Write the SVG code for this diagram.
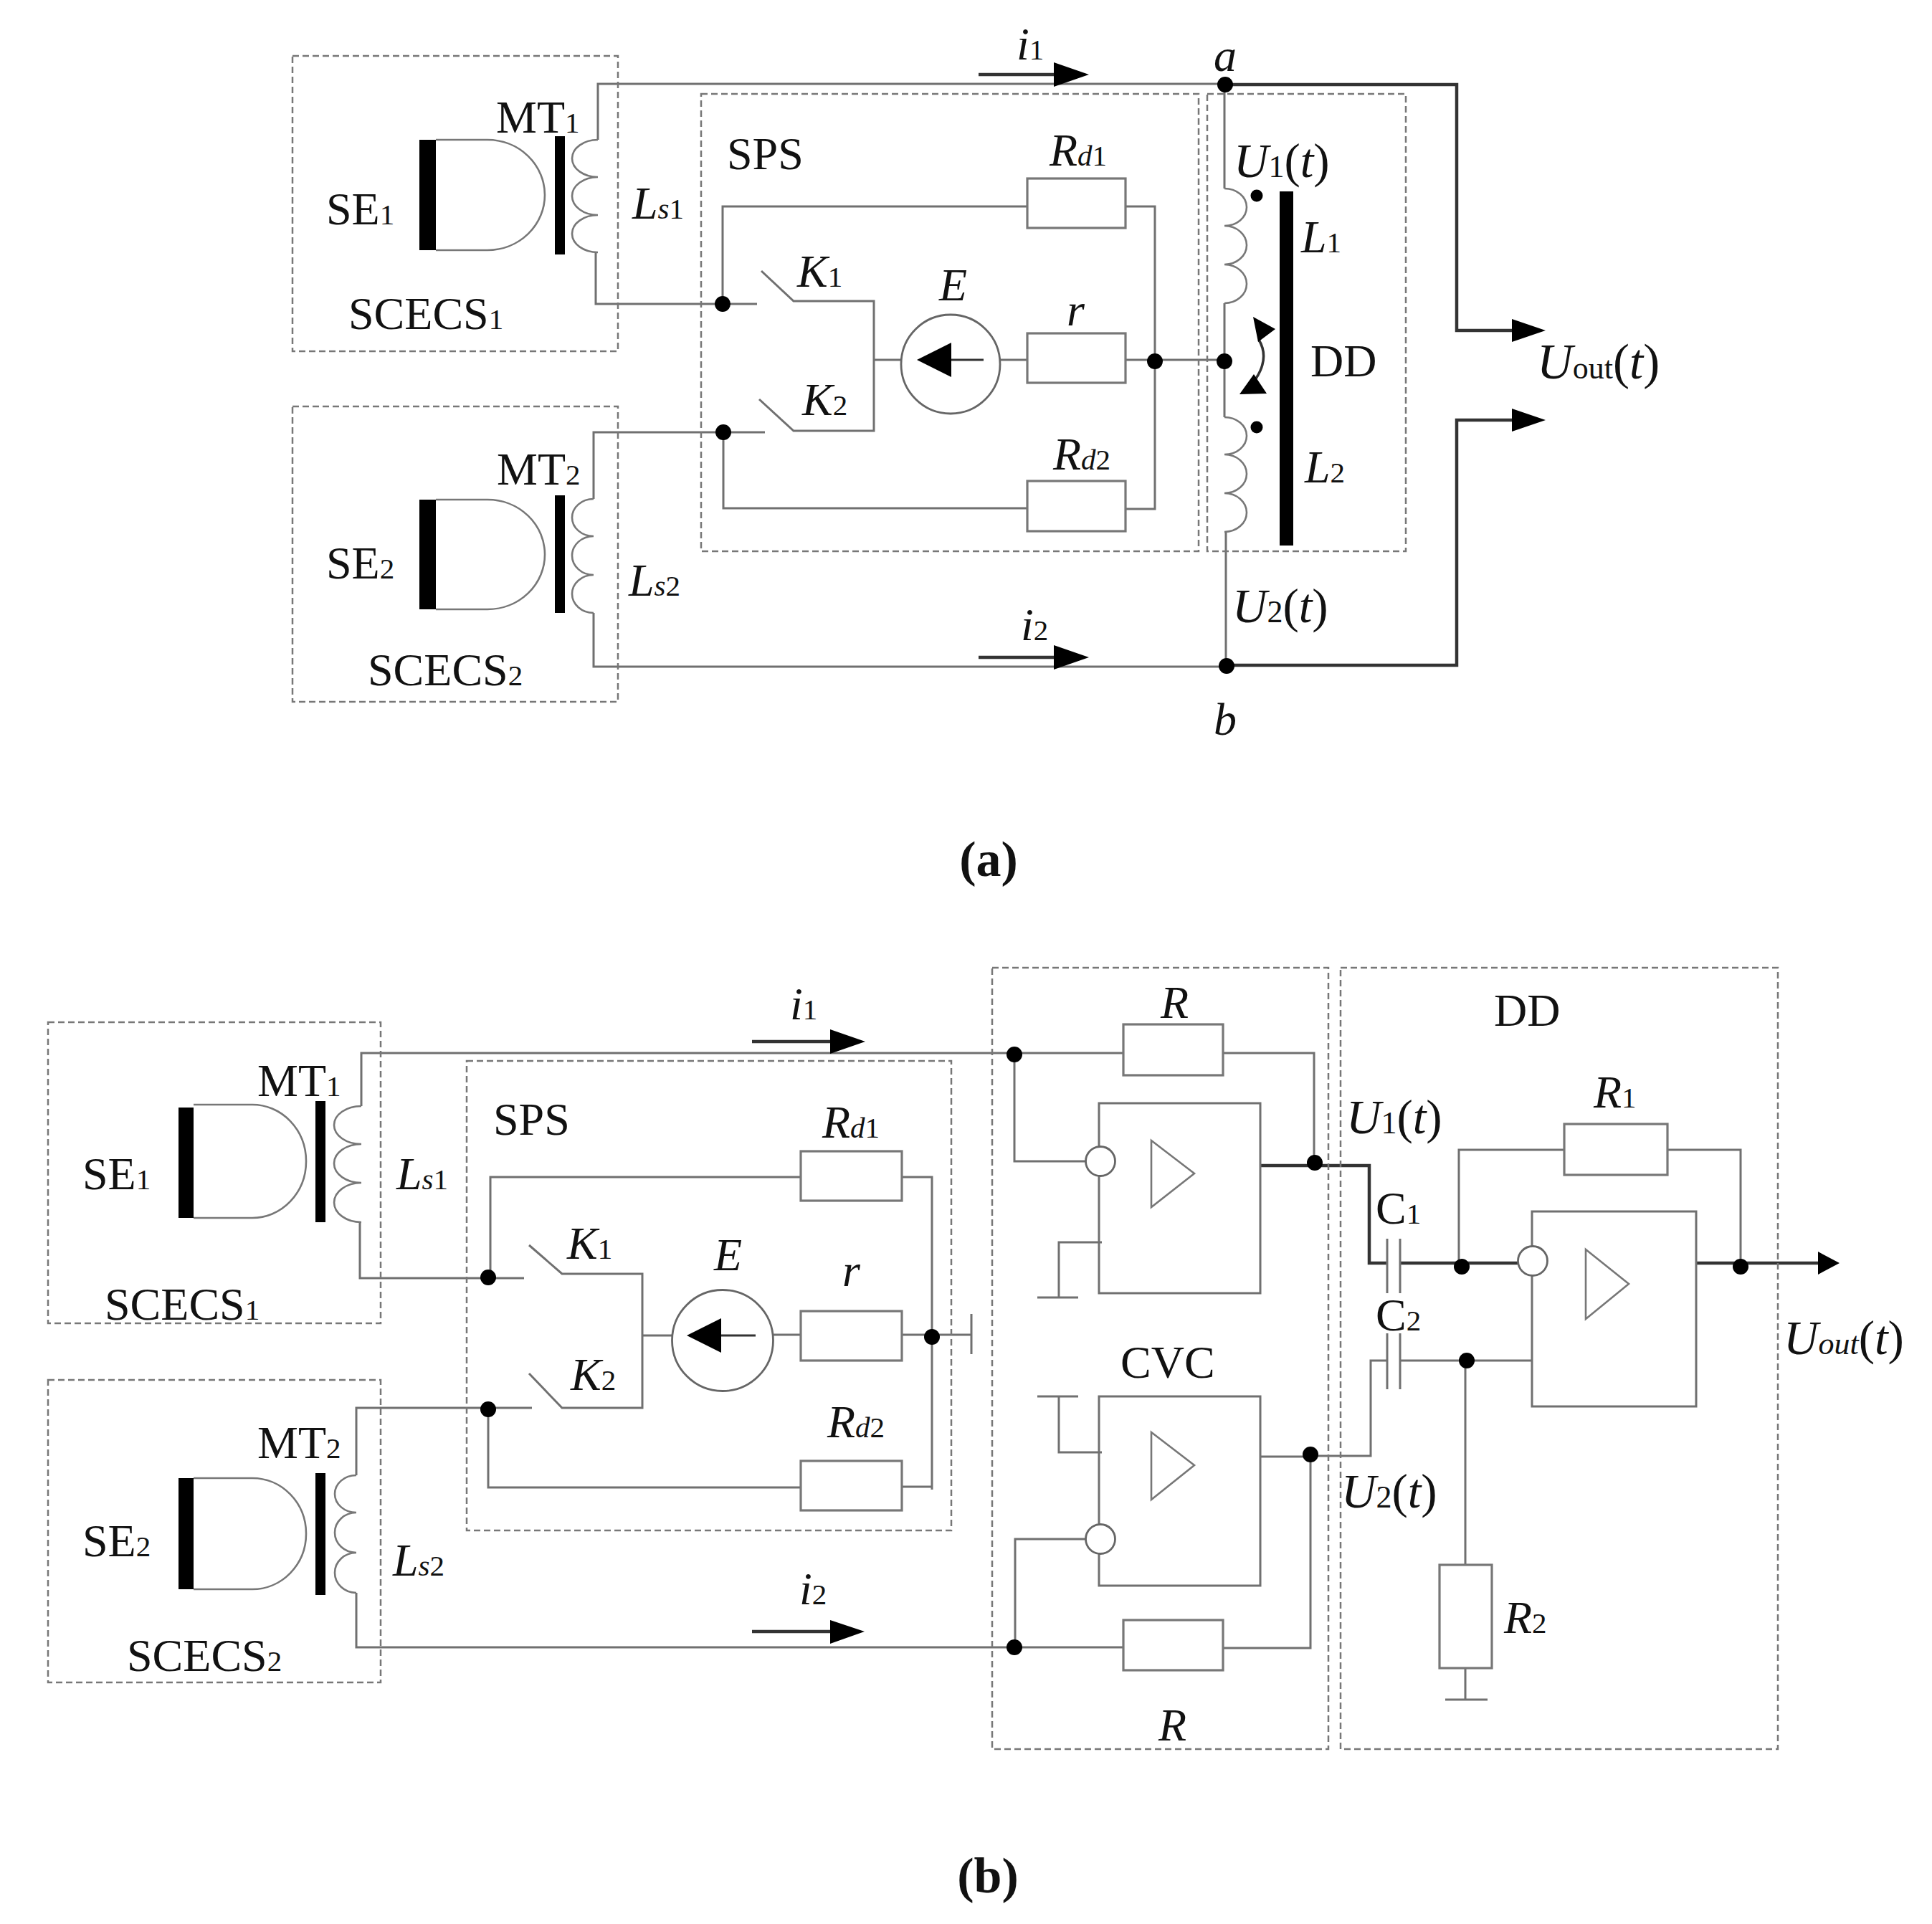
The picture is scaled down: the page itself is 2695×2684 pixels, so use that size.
<svg xmlns="http://www.w3.org/2000/svg" width="2695" height="2684" viewBox="0 0 2695 2684">
<style>
text{font-family:"Liberation Serif","Times New Roman",serif;font-size:64px;fill:#111}
.i{font-style:italic}
.s{font-size:41px}
.u{font-size:67px}
.u .s{font-size:44px}
.b{font-weight:bold;font-size:70px}
.box{fill:none;stroke:#777;stroke-width:2.5;stroke-dasharray:9 5}
.w{fill:none;stroke:#707070;stroke-width:3}
.k{fill:none;stroke:#333;stroke-width:4.5}
.c{fill:none;stroke:#777;stroke-width:2.6}
.r{fill:#fff;stroke:#777;stroke-width:3.2}
.o{fill:#fff;stroke:#666;stroke-width:2.8}
.f{fill:#000}
</style>
<rect width="2695" height="2684" fill="#fff"/>
<g id="connectors">
<!-- panel a -->
<path class="w" d="M834 195V117H1709"/>
<path class="w" d="M831 352V424H1056"/>
<path class="w" d="M828 696V603H1067"/>
<path class="w" d="M828 855V930H1711"/>
<path class="w" d="M1008 424V288H1433M1570 288H1611V710H1570M1009 603V709H1433"/>
<path class="w" d="M1062 378L1107 420H1219V601H1107L1059 557"/>
<path class="w" d="M1219 502H1258M1394 502H1433M1570 502H1708"/>
<path class="w" d="M1708 118V263M1708 423V582M1710 742V928"/>
<path class="k" d="M1709 118H2032V461H2109M2109 586H2032V928H1711"/>
<path class="k" d="M1365 104H1470M1365 917H1470"/>
<path class="f" d="M1470 87L1519 104L1470 121ZM1470 900L1519 917L1470 934ZM2109 445L2156 461L2109 477ZM2109 570L2156 586L2109 602Z"/>
<path class="k" d="M1756 474Q1771 499 1752 528" style="stroke-width:3.500"/>
<path class="f" d="M1748 442L1779 459L1755 477ZM1749 522L1767 549L1729 550Z"/>
<!-- panel b -->
<path class="w" d="M504 1543V1469H1567M1705 1469H1833V1622"/>
<path class="w" d="M502 1705V1783H731"/>
<path class="w" d="M497 2058V1964H742"/>
<path class="w" d="M497 2222V2298H1567M1705 2299H1828V2032H1758"/>
<path class="w" d="M684 1782V1642H1117M1258 1642H1300V2078M1258 2074H1300M681 1966V2075H1117"/>
<path class="w" d="M738 1737L784 1777H896V1964H784L738 1916"/>
<path class="w" d="M896 1863H937M1079 1862H1117M1258 1862H1355M1355 1833V1889"/>
<path class="w" d="M1415 1471V1620H1515M1416 2298V2147H1515"/>
<path class="w" d="M1537 1733H1477V1810M1447 1810H1504M1447 1948H1504M1477 1948V2026H1537"/>
<path class="k" d="M1758 1626H1910V1762H1935M1953 1762H2117"/>
<path class="w" d="M1828 2031H1912V1898H1935M1953 1898H2137"/>
<path class="w" d="M2035 1767V1604H2182M2326 1604H2428V1767"/>
<path class="w" d="M2044 1898V2183M2044 2327V2371M2016 2371H2075"/>
<path class="k" d="M2366 1762H2536M1049 1453H1158M1049 2276H1158"/>
<path class="f" d="M1158 1436L1207 1453L1158 1470ZM1158 2260L1206 2276L1158 2293ZM2536 1746L2566 1762L2536 1778Z"/>
<g class="f">
<circle cx="1709" cy="118" r="11"/><circle cx="1711" cy="929" r="11"/><circle cx="1708" cy="504" r="11"/><circle cx="1611" cy="504" r="11"/><circle cx="1008" cy="424" r="11"/><circle cx="1009" cy="603" r="11"/>
<circle cx="681" cy="1782" r="11"/><circle cx="681" cy="1966" r="11"/><circle cx="1300" cy="1865" r="11"/><circle cx="1415" cy="1471" r="11"/><circle cx="1415" cy="2298" r="11"/><circle cx="1834" cy="1622" r="11"/><circle cx="1828" cy="2029" r="11"/><circle cx="2039" cy="1767" r="11"/><circle cx="2046" cy="1898" r="11"/><circle cx="2428" cy="1767" r="11"/>
</g>
</g>
<g id="a-scecs1">
<rect class="box" x="408" y="78" width="454" height="412"/>
<rect class="f" x="585" y="195" width="23" height="154"/>
<path class="c" d="M608 195H680A80 77 0 0 1 680 349H608"/>
<rect class="f" x="774" y="190" width="14" height="165"/>
<path class="c" d="M834 195A36 26 0 0 0 834 247A36 26.500 0 0 0 834 300A36 26 0 0 0 834 352"/>
<text x="455" y="313">SE<tspan class="s">1</tspan></text>
<text x="692" y="185">MT<tspan class="s">1</tspan></text>
<text x="882" y="305" class="i">L<tspan class="s">s</tspan><tspan class="s" font-style="normal">1</tspan></text>
<text x="486" y="459">SCECS<tspan class="s">1</tspan></text>
</g>
<g id="a-scecs2">
<rect class="box" x="408" y="567" width="454" height="412"/>
<rect class="f" x="585" y="697" width="23" height="153"/>
<path class="c" d="M608 697H680A80 76.500 0 0 1 680 850H608"/>
<rect class="f" x="774" y="691" width="14" height="164"/>
<path class="c" d="M828 696A30 26 0 0 0 828 748A30 27 0 0 0 828 802A30 26.500 0 0 0 828 855"/>
<text x="455" y="807">SE<tspan class="s">2</tspan></text>
<text x="693" y="676">MT<tspan class="s">2</tspan></text>
<text x="877" y="831" class="i">L<tspan class="s">s</tspan><tspan class="s" font-style="normal">2</tspan></text>
<text x="513" y="956">SCECS<tspan class="s">2</tspan></text>
</g>
<g id="a-sps">
<rect class="box" x="978" y="131" width="694" height="638"/>
<text x="1014" y="236">SPS</text>
<text x="1112" y="400" class="i">K<tspan class="s" font-style="normal">1</tspan></text>
<text x="1119" y="579" class="i">K<tspan class="s" font-style="normal">2</tspan></text>
<text x="1310" y="419" class="i">E</text>
<circle class="o" cx="1326" cy="508" r="69"/>
<path class="f" d="M1279 502L1327 478V526Z"/>
<path class="k" d="M1327 502H1372" style="stroke-width:3"/>
<rect class="r" x="1433" y="249" width="137" height="69"/>
<rect class="r" x="1433" y="465" width="137" height="69"/>
<rect class="r" x="1433" y="671" width="137" height="70"/>
<text x="1464" y="231" class="i">R<tspan class="s">d</tspan><tspan class="s" font-style="normal">1</tspan></text>
<text x="1488" y="454" class="i">r</text>
<text x="1469" y="655" class="i">R<tspan class="s">d</tspan><tspan class="s" font-style="normal">2</tspan></text>
</g>
<g id="a-dd">
<rect class="box" x="1684" y="131" width="277" height="638"/>
<path class="c" d="M1708 263A31 26 0 0 1 1708 315A31 27 0 0 1 1708 369A31 27 0 0 1 1708 423"/>
<path class="c" d="M1708 582A31 26 0 0 1 1708 634A31 27 0 0 1 1708 688A31 27 0 0 1 1708 742"/>
<circle class="f" cx="1753" cy="273" r="8.500"/><circle class="f" cx="1753" cy="596" r="8.500"/>
<rect class="f" x="1785" y="267" width="19" height="494"/>
<text x="1721" y="247" class="i u">U<tspan class="s" font-style="normal">1</tspan><tspan font-style="normal">(</tspan>t<tspan font-style="normal">)</tspan></text>
<text x="1719" y="868" class="i u">U<tspan class="s" font-style="normal">2</tspan><tspan font-style="normal">(</tspan>t<tspan font-style="normal">)</tspan></text>
<text x="1815" y="352" class="i">L<tspan class="s" font-style="normal">1</tspan></text>
<text x="1820" y="673" class="i">L<tspan class="s" font-style="normal">2</tspan></text>
<text x="1828" y="525">DD</text>
</g>
<g id="a-labels">
<text x="1418" y="83" class="i">i<tspan class="s" font-style="normal">1</tspan></text>
<text x="1424" y="893" class="i">i<tspan class="s" font-style="normal">2</tspan></text>
<text x="1693" y="99" class="i">a</text>
<text x="1693" y="1025" class="i">b</text>
<text x="2144" y="528" class="i u" style="font-size:69px">U<tspan class="s" font-style="normal">out</tspan><tspan font-style="normal">(</tspan>t<tspan font-style="normal">)</tspan></text>
<text x="1379" y="1222" class="b" text-anchor="middle">(a)</text>
</g>
<g id="b-scecs1">
<rect class="box" x="67" y="1426" width="464" height="420"/>
<rect class="f" x="249" y="1545" width="21" height="154"/>
<path class="c" d="M270 1541H352A75 79 0 0 1 352 1699H270"/>
<rect class="f" x="440" y="1536" width="14" height="169"/>
<path class="c" d="M504 1543A38 26.500 0 0 0 504 1596A38 27 0 0 0 504 1650A38 27.500 0 0 0 504 1705"/>
<text x="115" y="1659">SE<tspan class="s">1</tspan></text>
<text x="359" y="1529">MT<tspan class="s">1</tspan></text>
<text x="553" y="1659" class="i">L<tspan class="s">s</tspan><tspan class="s" font-style="normal">1</tspan></text>
<text x="146" y="1841">SCECS<tspan class="s">1</tspan></text>
</g>
<g id="b-scecs2">
<rect class="box" x="67" y="1925" width="464" height="422"/>
<rect class="f" x="249" y="2062" width="21" height="155"/>
<path class="c" d="M270 2062H352A75 77.500 0 0 1 352 2217H270"/>
<rect class="f" x="440" y="2055" width="14" height="170"/>
<path class="c" d="M497 2058A30 26 0 0 0 497 2110A30 28 0 0 0 497 2166A30 28 0 0 0 497 2222"/>
<text x="115" y="2171">SE<tspan class="s">2</tspan></text>
<text x="359" y="2034">MT<tspan class="s">2</tspan></text>
<text x="548" y="2198" class="i">L<tspan class="s">s</tspan><tspan class="s" font-style="normal">2</tspan></text>
<text x="177" y="2331">SCECS<tspan class="s">2</tspan></text>
</g>
<g id="b-sps">
<rect class="box" x="651" y="1480" width="676" height="655"/>
<text x="688" y="1583">SPS</text>
<text x="791" y="1756" class="i">K<tspan class="s" font-style="normal">1</tspan></text>
<text x="796" y="1939" class="i">K<tspan class="s" font-style="normal">2</tspan></text>
<text x="996" y="1772" class="i">E</text>
<circle class="o" cx="1008" cy="1870" r="70.500"/>
<path class="f" d="M958 1863L1006 1839V1887Z"/>
<path class="k" d="M1006 1863H1054" style="stroke-width:3"/>
<rect class="r" x="1117" y="1606" width="141" height="69"/>
<rect class="r" x="1117" y="1829" width="141" height="69"/>
<rect class="r" x="1117" y="2038" width="141" height="69"/>
<text x="1147" y="1587" class="i">R<tspan class="s">d</tspan><tspan class="s" font-style="normal">1</tspan></text>
<text x="1175" y="1794" class="i">r</text>
<text x="1154" y="2005" class="i">R<tspan class="s">d</tspan><tspan class="s" font-style="normal">2</tspan></text>
</g>
<g id="b-cvc">
<rect class="box" x="1384" y="1350" width="469" height="1090"/>
<rect class="r" x="1567" y="1429" width="139" height="71"/>
<rect class="r" x="1567" y="2260" width="139" height="70"/>
<path class="w" d="M1533 1539H1758V1804H1533Z"/>
<path class="w" d="M1533 1948H1758V2212H1533Z"/>
<path class="c" d="M1606 1591L1666 1637L1606 1684Z"/>
<path class="c" d="M1606 1998L1666 2044L1606 2092Z"/>
<circle class="o" cx="1535" cy="1620" r="20.500"/>
<circle class="o" cx="1535" cy="2147" r="20.500"/>
<text x="1619" y="1420" class="i">R</text>
<text x="1616" y="2428" class="i">R</text>
<text x="1563" y="1922">CVC</text>
<text x="1102" y="1422" class="i">i<tspan class="s" font-style="normal">1</tspan></text>
<text x="1115" y="2238" class="i">i<tspan class="s" font-style="normal">2</tspan></text>
</g>
<g id="b-dd">
<rect class="box" x="1870" y="1350" width="610" height="1090"/>
<path class="w" d="M1935 1728V1804M1953 1728V1804M1935 1860V1938M1953 1860V1938"/>
<rect class="r" x="2182" y="1568" width="144" height="71"/>
<rect class="r" x="2008" y="2183" width="73" height="144"/>
<path class="w" d="M2137 1690H2366V1962H2137Z"/>
<path class="c" d="M2212 1743L2272 1791L2212 1840Z"/>
<circle class="o" cx="2138" cy="1759" r="20.500"/>
<text x="2084" y="1431">DD</text>
<text x="2223" y="1545" class="i">R<tspan class="s" font-style="normal">1</tspan></text>
<text x="2098" y="2278" class="i">R<tspan class="s" font-style="normal">2</tspan></text>
<text x="1878" y="1581" class="i u">U<tspan class="s" font-style="normal">1</tspan><tspan font-style="normal">(</tspan>t<tspan font-style="normal">)</tspan></text>
<text x="1871" y="2103" class="i u">U<tspan class="s" font-style="normal">2</tspan><tspan font-style="normal">(</tspan>t<tspan font-style="normal">)</tspan></text>
<text x="1919" y="1707">C<tspan class="s">1</tspan></text>
<text x="1919" y="1856">C<tspan class="s">2</tspan></text>
<text x="2488" y="1889" class="i u">U<tspan class="s">out</tspan><tspan font-style="normal">(</tspan>t<tspan font-style="normal">)</tspan></text>
<text x="1378" y="2640" class="b" text-anchor="middle">(b)</text>
</g>
</svg>
